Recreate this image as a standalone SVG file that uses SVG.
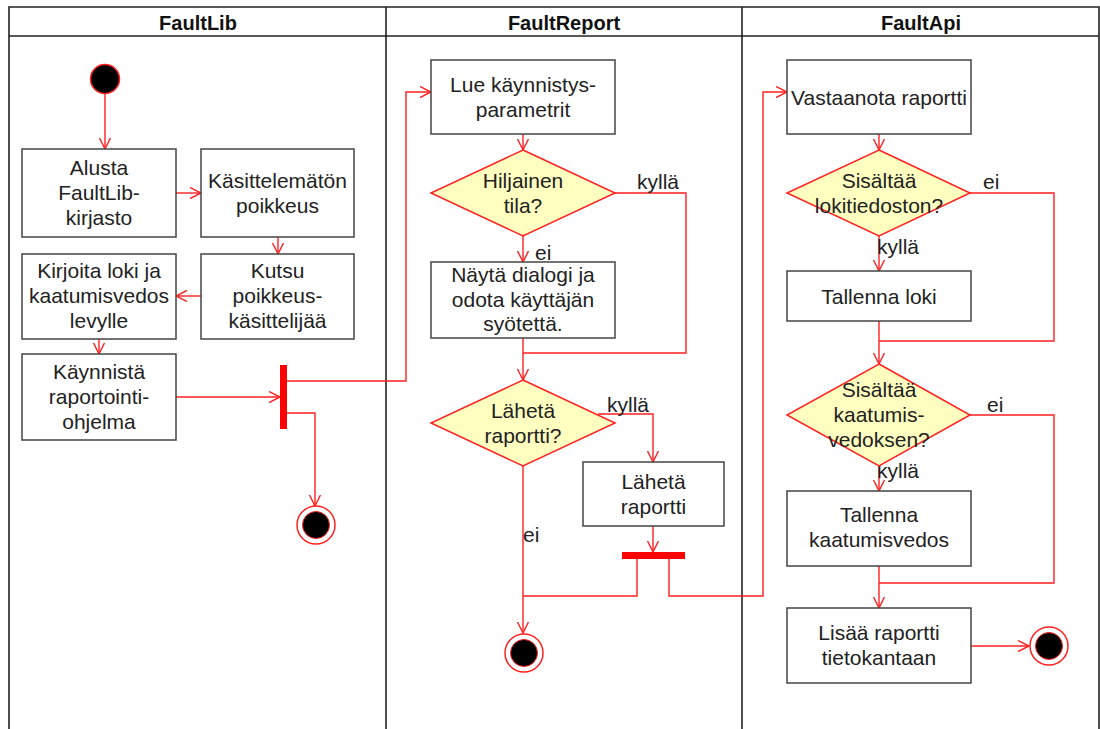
<svg xmlns="http://www.w3.org/2000/svg" width="1100" height="729" viewBox="0 0 1100 729">
<style>
.lane{fill:none;stroke:#222;stroke-width:1.6}
.hdr{font-family:"Liberation Sans",Arial,sans-serif;font-size:20px;font-weight:bold;fill:#111;text-anchor:middle}
.box{fill:#fff;stroke:#444;stroke-width:1.5}
.dia{fill:#ffffc0;stroke:#ff2020;stroke-width:1.5}
.t{font-family:"Liberation Sans",Arial,sans-serif;font-size:21px;fill:#222;text-anchor:middle}
.lbl{font-family:"Liberation Sans",Arial,sans-serif;font-size:21px;fill:#222}
.e{fill:none;stroke:#ff2020;stroke-width:1.4}
.ea{fill:none;stroke:#ff2020;stroke-width:1.4;marker-end:url(#arr)}
.start{fill:#000;stroke:#ff2020;stroke-width:1.5}
.endo{fill:#fff;stroke:#ff2020;stroke-width:1.5}
.endi{fill:#000;stroke:#ff2020;stroke-width:1}
.bar{fill:#ff0000;stroke:none}
</style>
<defs>
<marker id="arr" markerUnits="userSpaceOnUse" markerWidth="14" markerHeight="14" refX="11" refY="6" orient="auto">
<path d="M0,0.5 L11,6 L0,11.5" fill="none" stroke="#ff2020" stroke-width="1.4"/>
</marker>
</defs>
<rect x="0" y="0" width="1100" height="729" fill="#fff"/>
<g id="lanes">
<path class="lane" d="M9,740 V7 H1099 V740 M9,36 H1099 M386,7 V740 M742,7 V740"/>
<text class="hdr" x="198" y="30">FaultLib</text>
<text class="hdr" x="564" y="30">FaultReport</text>
<text class="hdr" x="921" y="30">FaultApi</text>
</g>
<g id="connectors">
<path class="ea" d="M105,94 V149"/>
<path class="ea" d="M176,193 H201"/>
<path class="ea" d="M278,237 V254"/>
<path class="ea" d="M201,296 H176"/>
<path class="ea" d="M99,339 V354"/>
<path class="ea" d="M176,397 H280"/>
<path class="ea" d="M287,381 H406 V92 H431"/>
<path class="ea" d="M287,413 H315 V506"/>
<path class="ea" d="M523,134 V150"/>
<path class="ea" d="M523,236 V262"/>
<path class="e" d="M615,193 H686 V353 H523"/>
<path class="ea" d="M523,338 V380"/>
<path class="ea" d="M598,414 H653 V462"/>
<path class="ea" d="M523,466 V633"/>
<path class="ea" d="M653,526 V552"/>
<path class="e" d="M637,559 V596 H523"/>
<path class="ea" d="M669,559 V596 H763 V92 H787"/>
<path class="ea" d="M879,134 V150"/>
<path class="ea" d="M879,236 V271"/>
<path class="e" d="M970,193 H1054 V341 H879"/>
<path class="ea" d="M879,321 V364"/>
<path class="ea" d="M879,466 V491"/>
<path class="e" d="M970,415 H1054 V583 H879"/>
<path class="ea" d="M879,566 V608"/>
<path class="ea" d="M971,646 H1029"/>
<text class="lbl" x="637" y="189">kyllä</text>
<text class="lbl" x="535" y="260">ei</text>
<text class="lbl" x="607" y="412">kyllä</text>
<text class="lbl" x="523" y="542">ei</text>
<text class="lbl" x="983" y="189">ei</text>
<text class="lbl" x="877" y="254">kyllä</text>
<text class="lbl" x="987" y="412">ei</text>
<text class="lbl" x="877" y="478">kyllä</text>
</g>
<g id="start1"><circle class="start" cx="105" cy="79" r="14.5"/></g>
<g id="alusta"><rect class="box" x="22" y="149" width="154" height="88"/>
<text class="t" x="99" y="175">Alusta</text><text class="t" x="99" y="200">FaultLib-</text><text class="t" x="99" y="225">kirjasto</text></g>
<g id="kasittelematon"><rect class="box" x="201" y="149" width="153" height="88"/>
<text class="t" x="277.5" y="188">Käsittelemätön</text><text class="t" x="277.5" y="213">poikkeus</text></g>
<g id="kirjoita"><rect class="box" x="22" y="254" width="154" height="85"/>
<text class="t" x="99" y="277.5">Kirjoita loki ja</text><text class="t" x="99" y="302.5">kaatumisvedos</text><text class="t" x="99" y="327.5">levylle</text></g>
<g id="kutsu"><rect class="box" x="201" y="254" width="153" height="85"/>
<text class="t" x="277.5" y="277.5">Kutsu</text><text class="t" x="277.5" y="302.5">poikkeus-</text><text class="t" x="277.5" y="327.5">käsittelijää</text></g>
<g id="kaynnista"><rect class="box" x="22" y="354" width="154" height="86"/>
<text class="t" x="99" y="379">Käynnistä</text><text class="t" x="99" y="404">raportointi-</text><text class="t" x="99" y="429">ohjelma</text></g>
<g id="fork1"><rect class="bar" x="280" y="365" width="7" height="64"/></g>
<g id="end1"><circle class="endo" cx="316" cy="525" r="19"/><circle class="endi" cx="316" cy="525" r="13.5"/></g>
<g id="lue"><rect class="box" x="431" y="60" width="184" height="74"/>
<text class="t" x="523" y="91.5">Lue käynnistys-</text><text class="t" x="523" y="116.5">parametrit</text></g>
<g id="hiljainen"><polygon class="dia" points="523,150 615,193 523,236 431,193"/>
<text class="t" x="523" y="188">Hiljainen</text><text class="t" x="523" y="212.5">tila?</text></g>
<g id="nayta"><rect class="box" x="431" y="262" width="184" height="76"/>
<text class="t" x="523" y="282">Näytä dialogi ja</text><text class="t" x="523" y="306.5">odota käyttäjän</text><text class="t" x="523" y="331">syötettä.</text></g>
<g id="laheta_q"><polygon class="dia" points="523,380 615,423 523,466 431,423"/>
<text class="t" x="523" y="418">Lähetä</text><text class="t" x="523" y="443">raportti?</text></g>
<g id="laheta"><rect class="box" x="583" y="462" width="141" height="64"/>
<text class="t" x="653.5" y="489">Lähetä</text><text class="t" x="653.5" y="514">raportti</text></g>
<g id="join1"><rect class="bar" x="622" y="552" width="63" height="7"/></g>
<g id="end2"><circle class="endo" cx="524" cy="653" r="19"/><circle class="endi" cx="524" cy="653" r="13.5"/></g>
<g id="vastaanota"><rect class="box" x="787" y="60" width="184" height="74"/>
<text class="t" x="879" y="105">Vastaanota raportti</text></g>
<g id="sisaltaa_loki"><polygon class="dia" points="879,150 970,193 879,236 787,193"/>
<text class="t" x="879" y="188">Sisältää</text><text class="t" x="879" y="213">lokitiedoston?</text></g>
<g id="tallenna_loki"><rect class="box" x="787" y="271" width="184" height="50"/>
<text class="t" x="879" y="304">Tallenna loki</text></g>
<g id="sisaltaa_vedos"><polygon class="dia" points="879,364 970,415 879,466 787,415"/>
<text class="t" x="879" y="397">Sisältää</text><text class="t" x="879" y="422">kaatumis-</text><text class="t" x="879" y="447">vedoksen?</text></g>
<g id="tallenna_vedos"><rect class="box" x="787" y="491" width="184" height="75"/>
<text class="t" x="879" y="521.5">Tallenna</text><text class="t" x="879" y="547">kaatumisvedos</text></g>
<g id="lisaa"><rect class="box" x="787" y="608" width="184" height="75"/>
<text class="t" x="879" y="640">Lisää raportti</text><text class="t" x="879" y="665">tietokantaan</text></g>
<g id="end3"><circle class="endo" cx="1049" cy="646" r="19"/><circle class="endi" cx="1049" cy="646" r="13.5"/></g>
</svg>
